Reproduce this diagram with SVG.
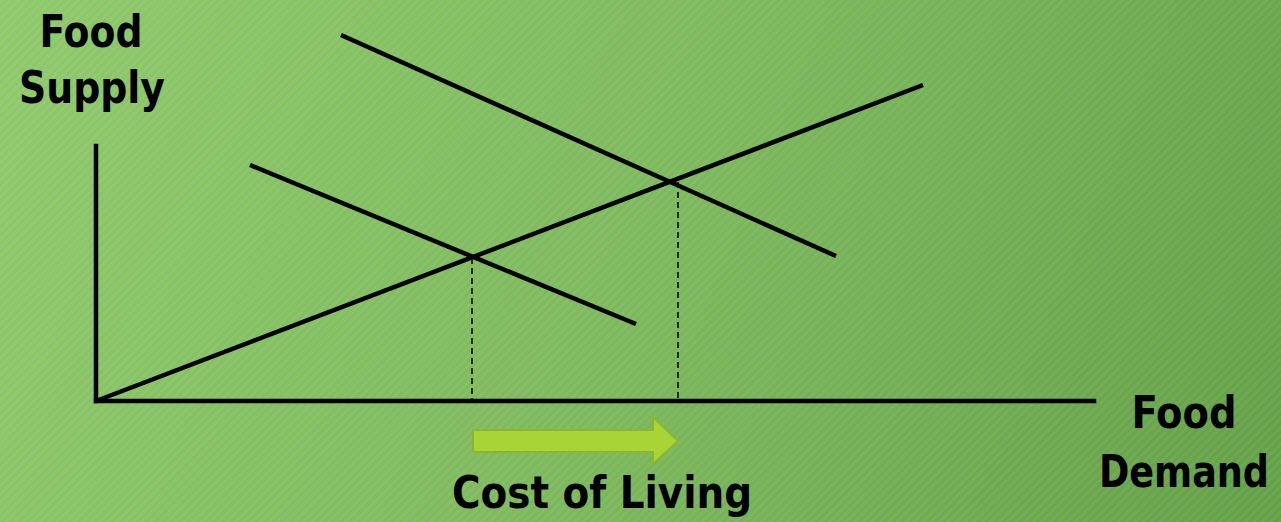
<svg xmlns="http://www.w3.org/2000/svg" width="1281" height="522" viewBox="0 0 1281 522">
<defs>
<linearGradient id="bg" x1="0" y1="0" x2="1281" y2="522" gradientUnits="userSpaceOnUse">
<stop offset="0" stop-color="#8EC96B"/>
<stop offset="0.5" stop-color="#7DB85C"/>
<stop offset="1" stop-color="#62A046"/>
</linearGradient>
<pattern id="stripes" width="6" height="6" patternUnits="userSpaceOnUse" patternTransform="rotate(45)">
<rect x="0" y="0" width="3" height="6" fill="#ffffff" fill-opacity="0.06"/>
</pattern>
<style>
.ax{stroke:#000;stroke-width:4.5;fill:none;stroke-linecap:square}
.ln{stroke:#000;stroke-width:4.5;fill:none}
.dash{stroke:#000;stroke-width:1.5;stroke-dasharray:6 4;fill:none}
.t{font-family:"DejaVu Sans Condensed","DejaVu Sans",sans-serif;font-weight:bold;font-size:45px;fill:#000;text-anchor:middle}
</style>
</defs>
<rect width="1281" height="522" fill="url(#bg)"/>
<rect width="1281" height="522" fill="url(#stripes)"/>
<g id="axes">
<line class="ax" x1="96" y1="146" x2="96" y2="401"/>
<line class="ax" x1="96" y1="401" x2="1094" y2="401"/>
</g>
<g id="connectors">
<line class="ln" x1="96" y1="401" x2="923" y2="85"/>
<line class="ln" x1="250" y1="165" x2="636" y2="324"/>
<line class="ln" x1="341" y1="35" x2="836" y2="256"/>
<line class="dash" x1="472" y1="258" x2="472" y2="399"/>
<line class="dash" x1="678" y1="182" x2="678" y2="399"/>
</g>
<g id="arrow">
<polygon points="473,430 653,430 653,417 678,441 653,464 653,452 473,452" fill="#A8D435" stroke="#8CB534" stroke-width="2"/>
</g>
<g id="label-supply">
<text class="t" x="91" y="47" textLength="103" lengthAdjust="spacingAndGlyphs">Food</text>
<text class="t" x="92" y="103" textLength="146" lengthAdjust="spacingAndGlyphs">Supply</text>
</g>
<g id="label-demand">
<text class="t" x="1184" y="428" textLength="105" lengthAdjust="spacingAndGlyphs">Food</text>
<text class="t" x="1184" y="487" textLength="170" lengthAdjust="spacingAndGlyphs">Demand</text>
</g>
<g id="label-cost">
<text class="t" x="602" y="508" textLength="300" lengthAdjust="spacingAndGlyphs">Cost of Living</text>
</g>
</svg>
